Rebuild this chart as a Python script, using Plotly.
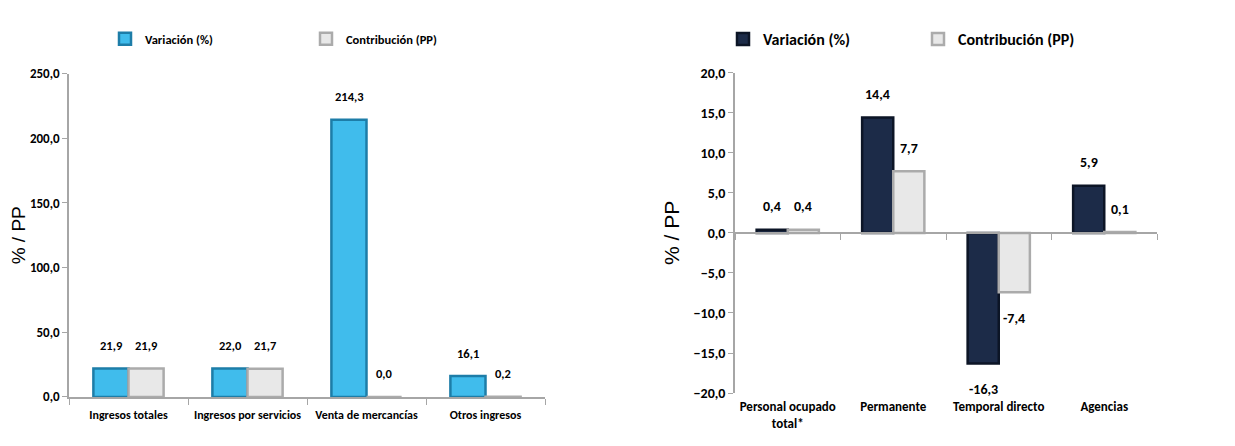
import plotly.graph_objects as go

# left panel: ingresos
ingresos_cats = ["Ingresos totales", "Ingresos por servicios", "Venta de mercancías", "Otros ingresos"]
ingresos_var = [21.9, 22.0, 214.3, 16.1]
ingresos_contrib = [21.9, 21.7, 0.0, 0.2]

# right panel: personal ocupado
personal_cats = ["Personal ocupado<br>total*", "Permanente", "Temporal directo", "Agencias"]
personal_var = [0.4, 14.4, -16.3, 5.9]
personal_contrib = [0.4, 7.7, -7.4, 0.1]

FONT = "Carlito, 'Liberation Sans Narrow', Lato, sans-serif"
TITLE_FONT = "'Liberation Sans', Arial, sans-serif"
BLUE, BLUE_EDGE = "#40BCEC", "#1D7DA8"
NAVY, NAVY_EDGE = "#1C2B48", "#0C1526"
GREY, GREY_EDGE = "#E8E8E8", "#ABABAB"
AXIS = "#A6A6A6"


def fmt(v):
    return f"{v:.1f}".replace(".", ",")


fig = go.Figure()

fig.add_bar(x=ingresos_cats, y=ingresos_var, name="Variación (%)", xaxis="x", yaxis="y",
            marker=dict(color=BLUE, line=dict(color=BLUE_EDGE, width=2.5)), legend="legend")
fig.add_bar(x=ingresos_cats, y=ingresos_contrib, name="Contribución (PP)", xaxis="x", yaxis="y",
            marker=dict(color=GREY, line=dict(color=GREY_EDGE, width=2.5)), legend="legend")
fig.add_bar(x=personal_cats, y=personal_var, name="Variación (%)", xaxis="x2", yaxis="y2",
            marker=dict(color=NAVY, line=dict(color=NAVY_EDGE, width=2.5)), legend="legend2")
fig.add_bar(x=personal_cats, y=personal_contrib, name="Contribución (PP)", xaxis="x2", yaxis="y2",
            marker=dict(color=GREY, line=dict(color=GREY_EDGE, width=2.5)), legend="legend2")
# invisible trace carrying the tick marks on the zero line of the right panel
fig.add_scatter(x=personal_cats, y=[None] * len(personal_cats), xaxis="x3", yaxis="y2",
                showlegend=False, hoverinfo="skip", mode="markers")

annotations = []
for cats, vals, xref, yref, shift, size in [
    (ingresos_cats, ingresos_var, "x", "y", -17.5, 12.5),
    (ingresos_cats, ingresos_contrib, "x", "y", 17.5, 12.5),
    (personal_cats, personal_var, "x2", "y2", -15.5, 14),
    (personal_cats, personal_contrib, "x2", "y2", 15.5, 14),
]:
    for c, v in zip(cats, vals):
        annotations.append(dict(
            x=c, y=v, xref=xref, yref=yref, text=fmt(v), showarrow=False,
            xshift=shift, yshift=23 if v >= 0 else -26,
            font=dict(family=FONT, size=size, color="#000", weight="bold"),
        ))

y2_dom = [54 / 446, 387 / 446]

fig.update_layout(
    width=1235, height=446, autosize=False,
    margin=dict(l=0, r=0, t=0, b=0),
    paper_bgcolor="white", plot_bgcolor="white",
    separators=",.",
    barmode="group", bargap=0.41, bargroupgap=0.0,
    font=dict(family=FONT, color="#000"),
    annotations=annotations,
    xaxis=dict(domain=[61 / 1235, 537 / 1235], anchor="y", range=[-0.5, 3.5],
               showline=True, linecolor=AXIS, linewidth=1.5,
               ticks="outside", tickson="boundaries", tickcolor=AXIS, ticklen=6,
               ticklabelstandoff=6, tickfont=dict(size=12, weight="bold"), showgrid=False),
    yaxis=dict(domain=[50 / 446, 386 / 446], anchor="x", range=[0, 250], dtick=50, tickformat=".1f",
               showline=True, linecolor=AXIS, linewidth=1.5, ticks="outside", tickcolor=AXIS, ticklen=5,
               tickfont=dict(size=13, weight="bold"), showgrid=False, zeroline=False,
               title=dict(text="%\u00a0/\u00a0PP", font=dict(size=19, family=TITLE_FONT), standoff=9)),
    xaxis2=dict(domain=[727 / 1235, 1149 / 1235], anchor="y2", range=[-0.5, 3.5], showline=False, ticks="",
                ticklabelstandoff=4, tickfont=dict(size=13, weight="bold"), showgrid=False),
    xaxis3=dict(overlaying="x2", anchor="free", range=[-0.5, 3.5],
                position=y2_dom[0] + (y2_dom[1] - y2_dom[0]) * 0.5,
                showline=True, linecolor=AXIS, linewidth=1.5, ticks="outside", tickson="boundaries",
                tickcolor=AXIS, ticklen=6, showticklabels=False, showgrid=False),
    yaxis2=dict(domain=y2_dom, anchor="x2", range=[-20, 20], dtick=5, tickformat=".1f",
                showline=True, linecolor=AXIS, linewidth=1.5, ticks="outside", tickcolor=AXIS, ticklen=5,
                tickfont=dict(size=14, weight="bold"), showgrid=False, zeroline=False,
                title=dict(text="%\u00a0/\u00a0PP", font=dict(size=21, family=TITLE_FONT), standoff=8)),
    legend=dict(orientation="h", x=97 / 1235, xanchor="left", y=1 - 24 / 446, yanchor="middle",
                entrywidth=156, entrywidthmode="pixels",
                font=dict(size=12.5, weight="bold"), itemclick=False),
    legend2=dict(orientation="h", x=715 / 1235, xanchor="left", y=1 - 24 / 446, yanchor="middle",
                 entrywidth=150, entrywidthmode="pixels",
                 font=dict(size=16, weight="bold"), itemclick=False),
)

fig.write_html("out.html")
